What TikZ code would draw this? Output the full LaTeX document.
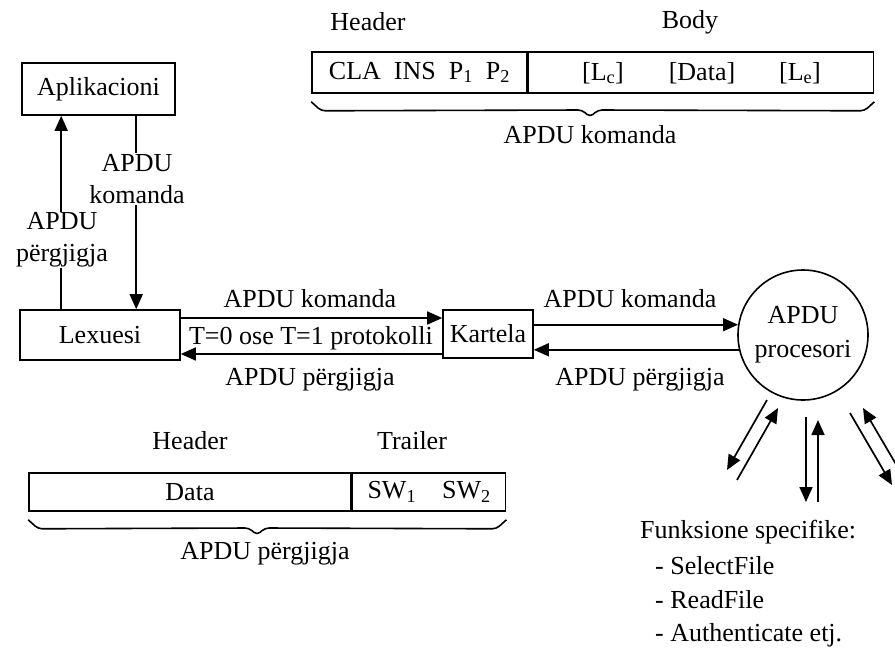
\documentclass[tikz,border=0pt]{standalone}
\usepackage{fontspec}
\setmainfont{Liberation Serif}
\usetikzlibrary{arrows.meta,calc}
\begin{document}
\begin{tikzpicture}[x=1pt,y=-1pt,
  font=\fontsize{26}{32}\selectfont,
  box/.style={draw,line width=1.6pt,inner sep=0pt},
  ln/.style={line width=1.6pt},
  arr/.style={line width=1.7pt,-{Triangle[length=15pt,width=13pt]}},
  lbl/.style={fill=white,inner sep=1pt,align=center},
  txt/.style={inner sep=0pt}]
\useasboundingbox (0,0) rectangle (895,648);

% main nodes
\node[box,minimum width=153pt,minimum height=52pt] (app) at (98.5,89) {Aplikacioni};
\node[box,minimum width=160pt,minimum height=50pt] (lex) at (100,335) {Lexuesi};
\node[box,minimum width=90pt,minimum height=48pt] (kar) at (488,334) {Kartela};
\node[draw,circle,line width=1.6pt,minimum size=130pt,inner sep=0pt,align=center,
      font=\fontsize{26}{34}\selectfont] (proc) at (803,335) {APDU\\procesori};

% Lexuesi <-> Aplikacioni
\draw[arr] ([xshift=42pt]lex.north west) -- ([xshift=40pt]app.south west);
\node[lbl] (lresp) at (62,240) {APDU\\përgjigja};
\draw[arr] ([xshift=115pt]app.south west) -- ([xshift=117pt]lex.north west);
\node[lbl] (lcmd) at (137,179) {APDU\\komanda};

% Lexuesi <-> Kartela
\coordinate (lxe) at ([yshift=17pt]lex.east);
\coordinate (kwr) at ([yshift=-20pt]kar.west);
\draw[arr] (lxe) -- (kar.west |- lxe);
\draw[arr] (kwr) -- (lex.east |- kwr);
\node[txt] (c1) at (310,299) {APDU komanda};
\node[txt] (prot) at (311,338) {T=0 ose T=1 protokolli};
\node[txt] (r1) at (310,380) {APDU përgjigja};

% Kartela <-> procesori
\draw[arr] (kar.east |- proc.171.15) -- (proc.171.15);
\draw[arr] (proc.193.34) -- (kar.east |- proc.193.34);
\node[txt] (c2) at (630,299) {APDU komanda};
\node[txt] (r2) at (640,380) {APDU përgjigja};

% arrows to functions
\coordinate (a1) at (767,400); \coordinate (a2) at (727,470);
\coordinate (b1) at (737,480); \coordinate (b2) at (778,408);
\coordinate (m1) at (806,417); \coordinate (m2) at (806,502);
\coordinate (n1) at (818,502); \coordinate (n2) at (818,420);
\coordinate (p1) at (850,413); \coordinate (p2) at (892,485);
\coordinate (q1) at (897,466); \coordinate (q2) at (863,408);
\draw[arr] (a1) -- (a2);
\draw[arr] (b1) -- (b2);
\draw[arr] (m1) -- (m2);
\draw[arr] (n1) -- (n2);
\draw[arr] (p1) -- (p2);
\draw[arr] (q1) -- (q2);

\node[txt,anchor=base west] (f0) at (640,538) {Funksione specifike:};
\node[txt,anchor=base west] (f1) at (655,574) {- SelectFile};
\node[txt,anchor=base west] (f2) at (655,608) {- ReadFile};
\node[txt,anchor=base west] (f3) at (655,641) {- Authenticate etj.};

% APDU komanda frame
\node[box,minimum width=215pt,minimum height=41pt] (ch) at (419.5,72.5) {CLA\enspace INS\enspace P\textsubscript{1}\enspace P\textsubscript{2}};
\node[box,minimum width=345pt,minimum height=41pt,anchor=west] (cb) at (ch.east) {};
\node[txt] (lc) at (603,73) {[L\textsubscript{c}]};
\node[txt] (dt) at (702,73) {[Data]};
\node[txt] (le) at (800,73) {[L\textsubscript{e}]};
\node[txt] (hd1) at (368,22) {Header};
\node[txt] (bd1) at (690,22) {Body};
\coordinate (cbl) at ([yshift=-8pt]ch.south west);
\coordinate (cbr) at ([yshift=-8pt]cb.south east);
\draw[ln,rounded corners=4pt] (cbl) -- ++(10,9) -- (582,110) -- (590,117) -- (598,110) -- ($(cbr)+(-10,9)$) -- (cbr);
\node[txt] (cl) at (590,135) {APDU komanda};

% APDU pergjigja frame
\node[box,minimum width=322pt,minimum height=38pt] (rd) at (190,492) {Data};
\node[box,minimum width=153pt,minimum height=38pt,anchor=west] (rt) at (rd.east) {SW\textsubscript{1}\quad SW\textsubscript{2}};
\node[txt] (hd2) at (190,441) {Header};
\node[txt] (tr2) at (412,441) {Trailer};
\coordinate (rbl) at ([yshift=-8pt]rd.south west);
\coordinate (rbr) at ([yshift=-8pt]rt.south east);
\draw[ln,rounded corners=4pt] (rbl) -- ++(10,9) -- (249,528) -- (257,535) -- (265,528) -- ($(rbr)+(-10,9)$) -- (rbr);
\node[txt] (rl) at (265,554) {APDU përgjigja};
\end{tikzpicture}
\end{document}
